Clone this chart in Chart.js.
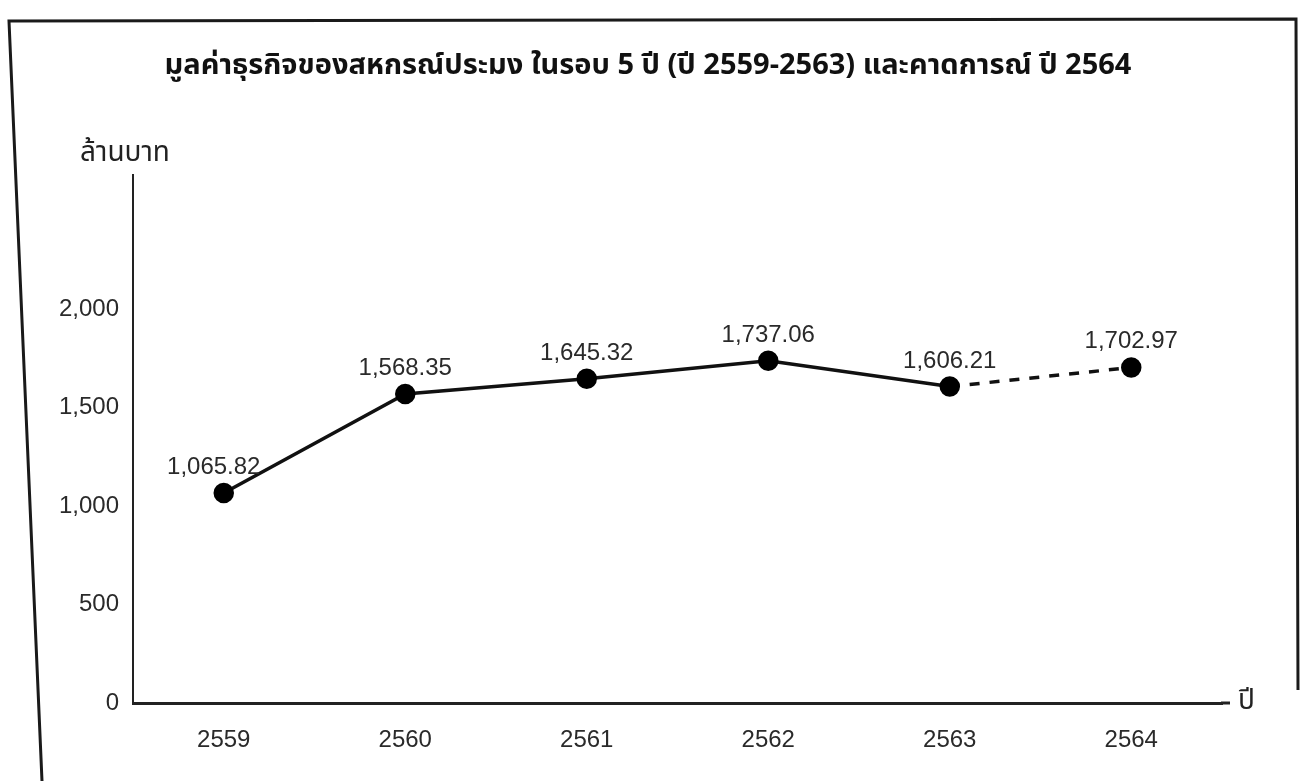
<!DOCTYPE html>
<html>
<head>
    <meta charset="utf-8">
    <title>มูลค่าธุรกิจของสหกรณ์ประมง</title>
    <script src="https://cdn.jsdelivr.net/npm/chart.js@4"></script>
    <style>
        html, body { margin: 0; padding: 0; background: #fff; }
        #wrap { width: 1300px; height: 781px; }
    </style>
</head>
<body>
    <div id="wrap"><canvas id="chart" width="1300" height="781"></canvas></div>
    <script>
        // data
        const years = ['2559', '2560', '2561', '2562', '2563', '2564'];
        const values = [1065.82, 1568.35, 1645.32, 1737.06, 1606.21, 1702.97];
        const valueLabels = ['1,065.82', '1,568.35', '1,645.32', '1,737.06', '1,606.21', '1,702.97'];
        const yTicks = [0, 500, 1000, 1500, 2000];

        const titleText = 'มูลค่าธุรกิจของสหกรณ์ประมง ในรอบ 5 ปี (ปี 2559-2563) และคาดการณ์ ปี 2564';
        const yUnit = 'ล้านบาท';
        const xUnit = 'ปี';

        const numFont = '"Liberation Sans", Arial, sans-serif';
        const thaiFont = '"Noto Sans Thai", "Noto Sans", sans-serif';

        // frame, title and axis captions
        const decor = {
            id: 'decor',
            beforeDraw(chart) {
                const ctx = chart.ctx;
                ctx.save();
                ctx.fillStyle = '#fff';
                ctx.fillRect(0, 0, chart.width, chart.height);
                ctx.strokeStyle = '#1a1a1a';
                ctx.lineWidth = 3;
                ctx.beginPath();
                ctx.moveTo(42, 781);
                ctx.lineTo(9, 21);
                ctx.lineTo(1296, 19);
                ctx.lineTo(1298, 690);
                ctx.stroke();
                ctx.restore();
            },
            afterDraw(chart) {
                const ctx = chart.ctx;
                const area = chart.chartArea;
                ctx.save();

                // x axis line runs a little past the last category
                ctx.strokeStyle = '#222';
                ctx.lineWidth = 3;
                ctx.beginPath();
                ctx.moveTo(area.right - 1, area.bottom);
                ctx.lineTo(area.right + 8, area.bottom);
                ctx.stroke();

                ctx.fillStyle = '#111';
                ctx.textAlign = 'center';
                ctx.textBaseline = 'middle';
                ctx.font = 'bold 29px ' + thaiFont;
                ctx.fillText(titleText, 648, 68);

                ctx.fillStyle = '#222';
                ctx.font = '28px ' + thaiFont;
                ctx.fillText(yUnit, area.left - 8, 155);
                ctx.textAlign = 'left';
                ctx.fillText(xUnit, area.right + 16, area.bottom);

                // value labels above the points
                const meta = chart.getDatasetMeta(0);
                ctx.font = '24px ' + numFont;
                ctx.fillStyle = '#2a2a2a';
                ctx.textAlign = 'center';
                ctx.textBaseline = 'alphabetic';
                meta.data.forEach((pt, i) => {
                    const dx = i === 0 ? -10 : 0;
                    ctx.fillText(valueLabels[i], pt.x + dx, pt.y - 19);
                });
                ctx.restore();
            }
        };

        new Chart(document.getElementById('chart'), {
            type: 'line',
            data: {
                labels: years,
                datasets: [{
                    data: values,
                    borderColor: '#111',
                    borderWidth: 3.5,
                    pointRadius: 8.5,
                    pointHoverRadius: 8.5,
                    pointBackgroundColor: '#000',
                    pointBorderColor: '#000',
                    tension: 0,
                    segment: {
                        borderDash: (c) => c.p1DataIndex === years.length - 1 ? [10, 10] : undefined
                    }
                }]
            },
            options: {
                responsive: false,
                animation: false,
                layout: { padding: { top: 175, right: 78, left: 0, bottom: 0 } },
                plugins: {
                    legend: { display: false },
                    tooltip: { enabled: false }
                },
                scales: {
                    x: {
                        type: 'category',
                        offset: true,
                        grid: { display: false },
                        border: { display: true, color: '#222', width: 3 },
                        ticks: {
                            color: '#2a2a2a',
                            padding: 15,
                            font: { family: numFont, size: 24 }
                        },
                        afterFit: (s) => { s.height = 78; }
                    },
                    y: {
                        min: 0,
                        max: 2680,
                        grid: { display: false },
                        border: { display: true, color: '#222', width: 2 },
                        afterBuildTicks: (s) => { s.ticks = yTicks.map(v => ({ value: v })); },
                        ticks: {
                            color: '#2a2a2a',
                            padding: 6,
                            font: { family: numFont, size: 24 },
                            callback: (v) => v.toLocaleString('en-US')
                        },
                        afterFit: (s) => { s.width = 133; }
                    }
                }
            },
            plugins: [decor]
        });
    </script>
</body>
</html>
